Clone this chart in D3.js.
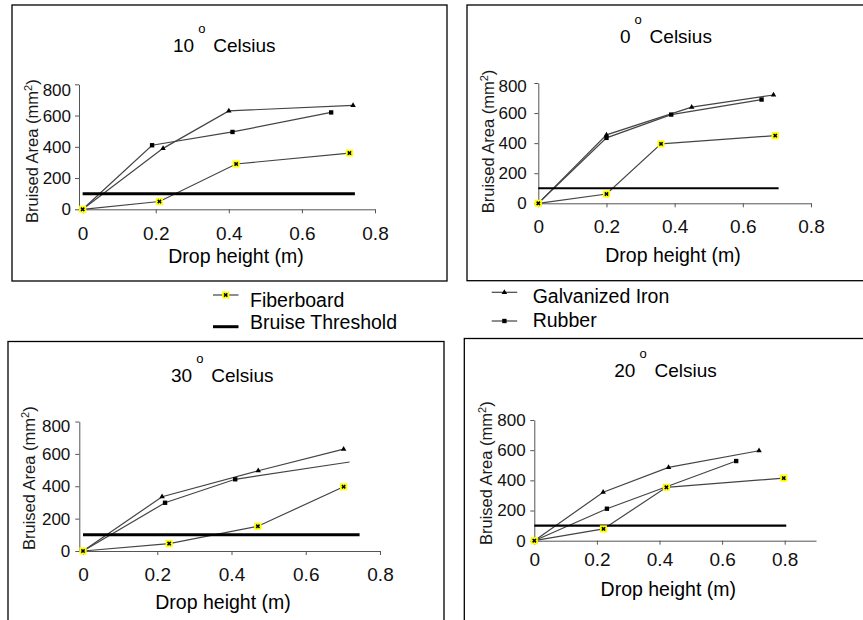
<!DOCTYPE html>
<html>
<head>
<meta charset="utf-8">
<script src="https://cdn.jsdelivr.net/npm/d3@7"></script>
<style>
  body { margin: 0; background: #fff; }
  svg { display: block; font-family: "Liberation Sans", Arial, sans-serif; }
</style>
</head>
<body>
<div id="chart"></div>
<script>
// temperatures shown in the four panels (reading order of the picture)
const temperatures = ["10", "0", "30", "20"];

// [drop height (m), bruised area (mm2)]
const fiberboard10 = [[0, 0], [0.21, 50], [0.42, 290], [0.73, 360]];
const galvanized10 = [[0, 0], [0.22, 390], [0.40, 630], [0.74, 665]];
const rubber10 = [[0, 0], [0.19, 410], [0.41, 495], [0.68, 620]];

const fiberboard0 = [[0, 0], [0.20, 62], [0.36, 395], [0.695, 450]];
const galvanized0 = [[0, 0], [0.20, 455], [0.45, 640], [0.69, 720]];
const rubber0 = [[0, 0], [0.20, 435], [0.39, 590], [0.655, 690]];

const fiberboard30 = [[0, 0], [0.232, 46], [0.471, 153], [0.702, 397]];
const galvanized30 = [[0, 0], [0.213, 335], [0.472, 496], [0.702, 629]];
const rubber30 = [[0, 0], [0.221, 298], [0.41, 443], [0.718, 550]];

const fiberboard20 = [[0, 0], [0.221, 78], [0.422, 354], [0.797, 415]];
const galvanized20 = [[0, 0], [0.22, 321], [0.429, 486], [0.718, 596]];
const rubber20 = [[0, 0], [0.232, 212], [0.645, 528]];

const fiberboard = [fiberboard10, fiberboard0, fiberboard30, fiberboard20];
const galvanized = [galvanized10, galvanized0, galvanized30, galvanized20];
const rubber = [rubber10, rubber0, rubber30, rubber20];
// the last rubber point at 30 degrees has no marker in the original
const rubberLastUnmarked = [false, false, true, false];

const bruiseThreshold = 100;
const thresholdEnds = [0.745, 0.705, 0.745, 0.805];

const xTicks = [0, 0.2, 0.4, 0.6, 0.8];
const yTicks = [0, 200, 400, 600, 800];
const legendNames = ["Fiberboard", "Bruise Threshold", "Galvanized Iron", "Rubber"];

const width = 863;
const height = 620;
const font = '"Liberation Sans", Arial, sans-serif';

// pixel layout of each panel
const layout = [
  { box: [12, 5, 435, 276], x0: 79, x1: 375, xMin: -0.01, xMax: 0.8, y0: 209.3, y1: 84.3,
    yPad: 4, xPad: 13, topShift: 6, title: [173, 52], xLabel: [236, 263], yLabel: [37.5, 223], thr: 3 },
  { box: [467, 5, 420, 275.7], x0: 538.3, x1: 811, xMin: 0, xMax: 0.8, y0: 203.3, y1: 83,
    yPad: 7.5, xPad: 12.5, topShift: 3, title: [620, 43], xLabel: [673, 261.7], yLabel: [494, 213.3], thr: 2.2 },
  { box: [8, 341.5, 436, 300], x0: 79.3, x1: 380, xMin: -0.01, xMax: 0.8, y0: 551, y1: 421.5,
    yPad: 5, xPad: 12.3, topShift: 4.5, title: [171, 381.7], xLabel: [223, 609.3], yLabel: [35, 550], thr: 3 },
  { box: [464.3, 338.5, 420, 300], x0: 534.3, x1: 816, xMin: 0, xMax: 0.9, y0: 540.7, y1: 420,
    yPad: 4.6, xPad: 8, topShift: 0, title: [614.3, 376.7], xLabel: [668.3, 596], yLabel: [491.7, 545], thr: 2.2 }
];

const svg = d3
  .select("#chart")
  .append("svg")
  .attr("width", width)
  .attr("height", height);

const triangle = d3.symbol(d3.symbolTriangle, 13);
const square = d3.symbol(d3.symbolSquare, 19);
const cross = d3.symbol(d3.symbolCross, 12);

function fiberMarker(sel) {
  sel.append("rect")
    .attr("x", -3.6).attr("y", -3.6)
    .attr("width", 7.2).attr("height", 7.2)
    .attr("fill", "#ffff00");
  sel.append("path")
    .attr("d", cross())
    .attr("transform", "rotate(45)")
    .attr("fill", "#000");
}

layout.forEach((L, i) => {
  const g = svg.append("g");

  g.append("rect")
    .attr("x", L.box[0]).attr("y", L.box[1])
    .attr("width", L.box[2]).attr("height", L.box[3])
    .attr("fill", "none")
    .attr("stroke", "#000")
    .attr("stroke-width", 1.3);

  const x = d3.scaleLinear().domain([L.xMin, L.xMax]).range([L.x0, L.x1]);
  const y = d3.scaleLinear().domain([0, 800]).range([L.y0, L.y1]);

  const gx = g.append("g")
    .attr("transform", `translate(0,${L.y0})`)
    .call(d3.axisBottom(x).tickValues(xTicks).tickSize(4).tickSizeOuter(0)
      .tickPadding(L.xPad).tickFormat((d) => String(d)));
  gx.attr("font-family", font).attr("font-size", 19);

  const gy = g.append("g")
    .attr("transform", `translate(${L.x0},0)`)
    .call(d3.axisLeft(y).tickValues(yTicks).tickSize(4).tickSizeOuter(0)
      .tickPadding(L.yPad));
  gy.attr("font-family", font).attr("font-size", 17);
  // the top label sits a little below its tick in the original
  gy.selectAll(".tick text")
    .filter((d) => d === 800)
    .attr("y", L.topShift);

  [gx, gy].forEach((ax) => {
    ax.select(".domain").attr("stroke", "#555");
    ax.selectAll(".tick line").attr("stroke", "#555");
    ax.selectAll(".tick text").attr("fill", "#111");
  });

  const line = d3.line().x((d) => x(d[0])).y((d) => y(d[1]));

  [fiberboard[i], galvanized[i], rubber[i]].forEach((s) => {
    g.append("path")
      .attr("d", line(s))
      .attr("fill", "none")
      .attr("stroke", "#444")
      .attr("stroke-width", 1.2);
  });

  g.append("line")
    .attr("x1", x(0)).attr("x2", x(thresholdEnds[i]))
    .attr("y1", y(bruiseThreshold)).attr("y2", y(bruiseThreshold))
    .attr("stroke", "#000")
    .attr("stroke-width", L.thr);

  g.selectAll(".gi")
    .data(galvanized[i])
    .join("path")
    .attr("d", triangle())
    .attr("transform", (d) => `translate(${x(d[0])},${y(d[1])})`)
    .attr("fill", "#000");

  const rub = rubberLastUnmarked[i] ? rubber[i].slice(0, -1) : rubber[i];
  g.selectAll(".rub")
    .data(rub)
    .join("path")
    .attr("d", square())
    .attr("transform", (d) => `translate(${x(d[0])},${y(d[1])})`)
    .attr("fill", "#000");

  g.selectAll(".fib")
    .data(fiberboard[i])
    .join("g")
    .attr("transform", (d) => `translate(${x(d[0])},${y(d[1])})`)
    .call(fiberMarker);

  // title with superscript degree sign
  const t = g.append("text")
    .attr("x", L.title[0]).attr("y", L.title[1])
    .attr("font-size", 19)
    .attr("fill", "#000");
  t.append("tspan").text(temperatures[i]);
  t.append("tspan").attr("dx", 4).attr("dy", -19).attr("font-size", 13).text("o");
  t.append("tspan").attr("dx", 7.8).attr("dy", 19).text("Celsius");

  g.append("text")
    .attr("x", L.xLabel[0]).attr("y", L.xLabel[1])
    .attr("text-anchor", "middle")
    .attr("font-size", 19.5)
    .attr("fill", "#000")
    .text("Drop height (m)");

  const yl = g.append("text")
    .attr("transform", `translate(${L.yLabel[0]},${L.yLabel[1]}) rotate(-90)`)
    .attr("font-size", 16.5)
    .attr("fill", "#1a1a1a");
  yl.append("tspan").text("Bruised Area (mm");
  yl.append("tspan").attr("dy", -6).attr("font-size", 11).text("2");
  yl.append("tspan").attr("dy", 6).text(")");
});

// legend
const legendPos = [
  { lx: 213, y: 295, ty: 306.5, tx: 250 },
  { lx: 213, y: 326.7, ty: 329.3, tx: 250 },
  { lx: 491.7, y: 292.3, ty: 303.3, tx: 532.7 },
  { lx: 491.7, y: 321, ty: 326.7, tx: 532.7 }
];

const legend = svg.append("g").attr("id", "legend");
legendNames.forEach((name, k) => {
  const p = legendPos[k];
  const item = legend.append("g");
  item.append("line")
    .attr("x1", p.lx).attr("x2", p.lx + 25.5)
    .attr("y1", p.y).attr("y2", p.y)
    .attr("stroke", k === 1 ? "#000" : "#444")
    .attr("stroke-width", k === 1 ? 3 : 1.2);
  const m = item.append("g").attr("transform", `translate(${p.lx + 12.7},${p.y})`);
  if (k === 0) m.call(fiberMarker);
  if (k === 2) m.append("path").attr("d", triangle()).attr("fill", "#000");
  if (k === 3) m.append("path").attr("d", square()).attr("fill", "#000");
  item.append("text")
    .attr("x", p.tx).attr("y", p.ty)
    .attr("font-size", 19.5)
    .attr("fill", "#000")
    .text(name);
});
</script>
</body>
</html>
